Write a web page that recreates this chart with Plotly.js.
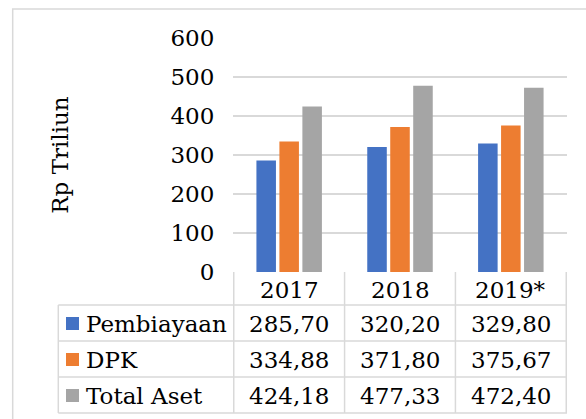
<!DOCTYPE html>
<html>
<head>
<meta charset="utf-8">
<script src="https://cdn.plot.ly/plotly-3.0.1.min.js"></script>
<style>html,body{margin:0;padding:0;background:#fff;}#chart{width:586px;height:419px;}</style>
</head>
<body>
<div id="chart"></div>
<script>
// ---- data ----
const years = ['2017', '2018', '2019*'];
const seriesNames = ['Pembiayaan', 'DPK', 'Total Aset'];
const pembiayaan = [285.70, 320.20, 329.80];
const dpk = [334.88, 371.80, 375.67];
const totalAset = [424.18, 477.33, 472.40];
const yTicks = [0, 100, 200, 300, 400, 500, 600];
const yTitle = 'Rp Triliun';

// ---- styling / layout ----
const colors = ['#4472C4', '#ED7D31', '#A5A5A5'];
const FONT = 'DejaVu Serif';
const FS = 23;
const gridCol = '#d9d9d9';
const W = 586, H = 419;
const L = 233, R = 567, T = 38, B = 272;
const px = x => (x - L) / (R - L);
const py = y => (B - y) / (B - T);

const series = [pembiayaan, dpk, totalAset];
const traces = series.map((vals, i) => ({
  type: 'bar', x: years, y: vals, name: seriesNames[i],
  marker: {color: colors[i]}, hoverinfo: 'skip'
}));

// table geometry (pixels)
const headerTop = 272, headerBot = 305;
const rowLines = [305, 341, 377, 413];
const tableLeft = 58.3;
const labelX = 84;

const shapes = [];
// outer border
shapes.push({type: 'rect', xref: 'paper', yref: 'paper', x0: px(12.7), x1: px(620), y0: py(9), y1: py(460),
  line: {color: gridCol, width: 1.5}, fillcolor: 'rgba(0,0,0,0)', layer: 'below'});
// horizontal table lines
rowLines.forEach(y => shapes.push({type: 'line', xref: 'paper', yref: 'paper', x0: px(tableLeft), x1: 1, y0: py(y), y1: py(y),
  line: {color: gridCol, width: 1.5}}));
// vertical lines for year columns (category boundaries)
for (let i = 0; i <= years.length; i++) {
  shapes.push({type: 'line', xref: 'x', yref: 'paper', x0: i - 0.5, x1: i - 0.5, y0: py(headerTop), y1: py(rowLines[rowLines.length - 1]),
    line: {color: gridCol, width: 1.5}});
}
// left line of label column
shapes.push({type: 'line', xref: 'paper', yref: 'paper', x0: px(tableLeft), x1: px(tableLeft), y0: py(rowLines[0]), y1: py(rowLines[rowLines.length - 1]),
  line: {color: gridCol, width: 1.5}});
// legend keys
seriesNames.forEach((n, i) => {
  const cy = (rowLines[i] + rowLines[i + 1]) / 2 + 0.5;
  shapes.push({type: 'rect', xref: 'paper', yref: 'paper', x0: px(66), x1: px(79), y0: py(cy - 6.5), y1: py(cy + 6.5),
    line: {width: 0}, fillcolor: colors[i]});
});

const annotations = [];
const txtFont = {family: FONT, size: FS, color: '#000'};
// header
years.forEach((yr, j) => annotations.push({xref: 'x', yref: 'paper', x: j, y: py((headerTop + headerBot) / 2 + 1),
  text: yr, showarrow: false, xanchor: 'center', yanchor: 'middle', font: txtFont}));
// rows
seriesNames.forEach((n, i) => {
  const cy = (rowLines[i] + rowLines[i + 1]) / 2 + 1;
  annotations.push({xref: 'paper', yref: 'paper', x: px(labelX), y: py(cy), text: n, showarrow: false,
    xanchor: 'left', yanchor: 'middle', font: txtFont});
  series[i].forEach((v, j) => annotations.push({xref: 'x', yref: 'paper', x: j, y: py(cy),
    text: v.toFixed(2).replace('.', ','), showarrow: false, xanchor: 'center', yanchor: 'middle', font: txtFont}));
});

const layout = {
  width: W, height: H,
  margin: {l: L, r: W - R, t: T, b: H - B, pad: 0},
  paper_bgcolor: '#fff', plot_bgcolor: '#fff',
  font: {family: FONT, size: FS, color: '#000'},
  barmode: 'group', bargap: 0.378, bargroupgap: 0.15,
  showlegend: false,
  xaxis: {type: 'category', showticklabels: false, showgrid: false, zeroline: false, showline: false, ticks: '', fixedrange: true},
  yaxis: {range: [0, 600], tickvals: yTicks, ticktext: yTicks.map(String), showgrid: true, gridcolor: gridCol, gridwidth: 1.5,
    zeroline: false, showline: false, ticks: 'outside', ticklen: 13, tickcolor: 'rgba(0,0,0,0)',
    tickfont: {family: FONT, size: FS, color: '#000'},
    title: {text: yTitle, font: {family: FONT, size: FS, color: '#000'}, standoff: 95}},
  shapes: shapes,
  annotations: annotations
};

Plotly.newPlot('chart', traces, layout, {staticPlot: true, displayModeBar: false});
</script>
</body>
</html>
